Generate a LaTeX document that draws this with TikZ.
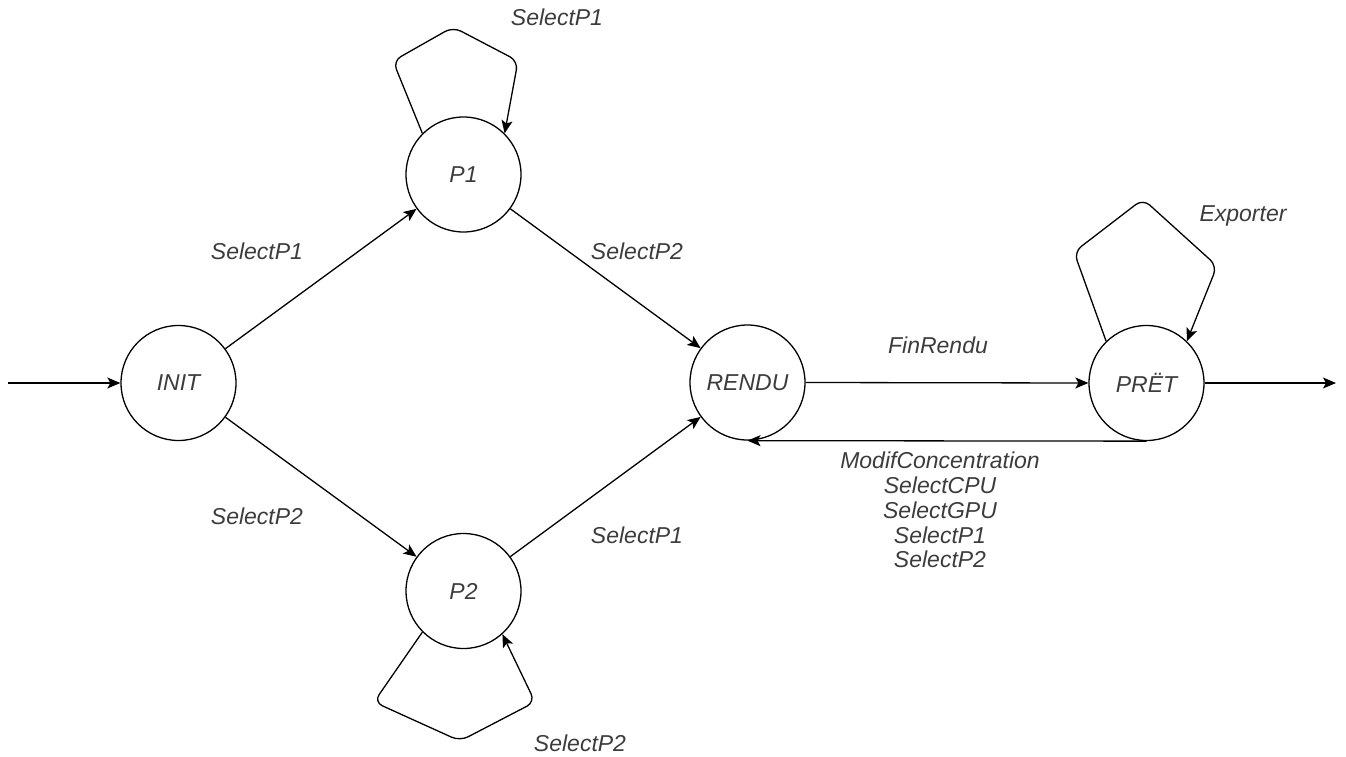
\documentclass[tikz,border=0pt]{standalone}
\usepackage{fontspec}
\setmainfont{Liberation Sans}
\usetikzlibrary{arrows.meta}
\definecolor{txtgray}{RGB}{60,60,60}
\tikzset{
  state/.style={circle,draw=black,line width=1.3pt,minimum size=115pt,inner sep=0pt,
    font=\itshape\fontsize{23}{25}\selectfont,text=txtgray},
  lbl/.style={font=\itshape\fontsize{23}{24.8}\selectfont,text=txtgray,align=center,inner sep=0pt},
  edge/.style={line width=1.3pt,-{Stealth[length=13pt,width=11pt,inset=3pt]}},
  loopedge/.style={edge,rounded corners=9pt}
}
\begin{document}
\begin{tikzpicture}[x=1pt,y=-1pt]
\useasboundingbox (0,0) rectangle (1346,757);
\node[state] (init) at (178.5,383) {INIT};
\node[state] (p1) at (463.5,174.5) {P1};
\node[state] (p2) at (463.5,591) {P2};
\node[state] (rendu) at (747.5,382.5) {RENDU};
\node[state] (pret) at (1146.5,383) {PRËT};

\coordinate (start) at (8,383);
\coordinate (end) at (1336,383);

\draw[edge] (start) -- (init);
\draw[edge] (init) -- (p1);
\draw[edge] (init) -- (p2);
\draw[edge] (p1) -- (rendu);
\draw[edge] (p2) -- (rendu);
\draw[edge] (rendu.east) -- (pret.west);
\draw[edge] (pret.south) -- (rendu.south);
\draw[edge] (pret.east) -- (end);

% loops
\coordinate (a1) at (393,61);
\coordinate (a2) at (453,27);
\coordinate (a3) at (518,61);
\draw[loopedge] (p1.135) -- (a1) -- (a2) -- (a3) -- (p1.45);

\coordinate (b1) at (374,702);
\coordinate (b2) at (460,741);
\coordinate (b3) at (535,702);
\draw[loopedge] (p2.225) -- (b1) -- (b2) -- (b3) -- (p2.-48);

\coordinate (c1) at (1074,252);
\coordinate (c2) at (1143,199);
\coordinate (c3) at (1217,266);
\draw[loopedge] (pret.134) -- (c1) -- (c2) -- (c3) -- (pret.46);

% labels
\node[lbl] (l1) at (557,17) {SelectP1};
\node[lbl] (l2) at (580,743) {SelectP2};
\node[lbl] (l3) at (1243,216) {Exporter};
\node[lbl] (l4) at (257,251) {SelectP1};
\node[lbl] (l5) at (257,516) {SelectP2};
\node[lbl] (l6) at (637,251) {SelectP2};
\node[lbl] (l7) at (637,535) {SelectP1};
\node[lbl] (l8) at (938,345) {FinRendu};
\node[lbl] (l9) at (940,510) {ModifConcentration\\SelectCPU\\SelectGPU\\SelectP1\\SelectP2};
\end{tikzpicture}
\end{document}
